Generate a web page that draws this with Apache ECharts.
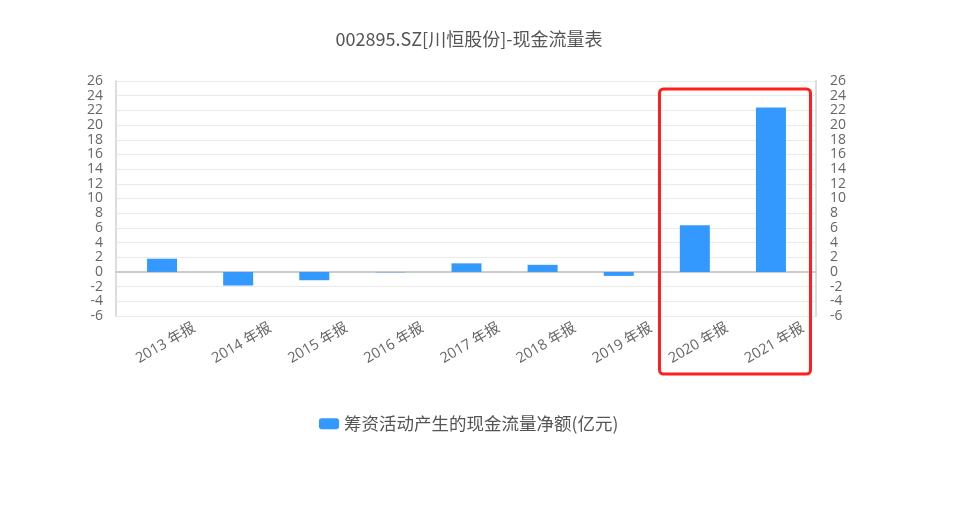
<!DOCTYPE html>
<html>
<head>
<meta charset="utf-8">
<script src="https://cdn.jsdelivr.net/npm/echarts@6/dist/echarts.min.js"></script>
<style>
html,body{margin:0;padding:0;background:#fff;}
#chart{width:958px;height:518px;}
</style>
</head>
<body>
<div id="chart"></div>
<script>
const titleText = '002895.SZ[川恒股份]-现金流量表';
const seriesName = '筹资活动产生的现金流量净额(亿元)';
const categories = ['2013 年报','2014 年报','2015 年报','2016 年报','2017 年报','2018 年报','2019 年报','2020 年报','2021 年报'];
const values = [1.8, -1.85, -1.13, -0.05, 1.17, 0.97, -0.54, 6.35, 22.4];
const yMin = -6, yMax = 26, yStep = 2;

const FONT = '"Open Sans", "Noto Sans CJK SC", sans-serif';
const CJK = '"Noto Sans CJK SC", "Noto Sans", sans-serif';
const chart = echarts.init(document.getElementById('chart'));
chart.setOption({
  backgroundColor: '#fff',
  animation: false,
  title: {
    text: titleText,
    left: 464, textAlign: 'center', top: 25,
    textStyle: {fontSize: 18, fontWeight: 'normal', color: '#555', fontFamily: CJK}
  },
  legend: {
    left: 314, top: 410,
    itemWidth: 20, itemHeight: 11, itemGap: 10,
    icon: 'roundRect',
    textStyle: {fontSize: 17.5, color: '#555', fontFamily: CJK},
    data: [seriesName]
  },
  grid: [
    {left: 116, right: 142, top: 81, bottom: 202},
    {left: 124, right: 149, top: 81, bottom: 202}
  ],
  xAxis: [
    {gridIndex: 0, type: 'category', data: categories,
     axisLine: {show: true, lineStyle: {color: '#ccc', width: 2}},
     axisTick: {show: false}, axisLabel: {show: false}, splitLine: {show: false}},
    {gridIndex: 1, type: 'category', data: categories,
     axisLine: {show: false}, axisTick: {show: false},
     axisLabel: {rotate: 30, align: 'center', verticalAlign: 'top', margin: 21,
       fontSize: 14.5, color: '#666', fontFamily: FONT, interval: 0}}
  ],
  yAxis: [
    {gridIndex: 0, type: 'value', position: 'left', min: yMin, max: yMax, interval: yStep,
     axisLine: {show: true, lineStyle: {color: '#ddd', width: 2}}, axisTick: {show: false},
     axisLabel: {margin: 13, fontSize: 14, color: '#666', fontFamily: FONT, lineHeight: 14},
     splitLine: {show: true, lineStyle: {color: '#eaeaea', width: 1}}},
    {gridIndex: 0, type: 'value', position: 'right', min: yMin, max: yMax, interval: yStep,
     axisLine: {show: true, lineStyle: {color: '#ddd', width: 2}}, axisTick: {show: false},
     axisLabel: {margin: 14, fontSize: 14, color: '#666', fontFamily: FONT, lineHeight: 14},
     splitLine: {show: false}},
    {gridIndex: 1, type: 'value', min: yMin, max: yMax, interval: yStep, show: false,
     splitLine: {show: false}}
  ],
  series: [{
    name: seriesName,
    type: 'bar',
    xAxisIndex: 1, yAxisIndex: 2,
    data: values,
    barWidth: 30,
    itemStyle: {color: '#3399ff'}
  }],
  graphic: [{
    type: 'rect',
    shape: {x: 659.5, y: 89, width: 151, height: 285, r: 4},
    style: {fill: 'none', stroke: '#ff1f1f', lineWidth: 3},
    z: 100
  }]
});
</script>
</body>
</html>
